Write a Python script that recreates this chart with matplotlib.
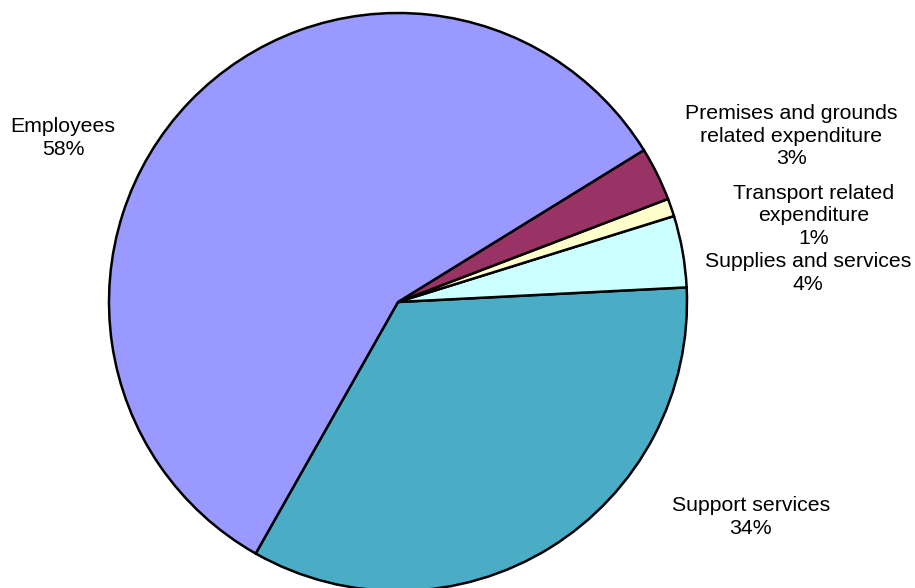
import matplotlib.pyplot as plt

plt.rcParams['font.family'] = ['Liberation Sans', 'DejaVu Sans']

categories = ['Support services', 'Supplies and services', 'Transport related\nexpenditure',
              'Premises and grounds\nrelated expenditure', 'Employees']
shares = [34, 4, 1, 3, 58]
colors = ['#4BACC6', '#CCFFFF', '#FFFFCC', '#993366', '#9999FF']

# label centres in pie units (radius = 1)
label_pos = [(1.221, -0.744), (1.419, 0.100), (1.439, 0.298), (1.360, 0.574), (-1.159, 0.567)]

W, H = 915, 588
cx, cy, r = 398, 302, 289

fig = plt.figure(figsize=(W / 100, H / 100), dpi=100)
ax = fig.add_axes([0, 0, 1, 1])
ax.pie(shares, colors=colors, startangle=-119.5, counterclock=True,
       wedgeprops=dict(edgecolor='black', linewidth=1.8))
ax.set_aspect('auto')
ax.set_xlim(-cx / r, (W - cx) / r)
ax.set_ylim((cy - H) / r, cy / r)
ax.axis('off')

for name, val, (x, y) in zip(categories, shares, label_pos):
    ax.text(x, y, f'{name}\n{val}%', ha='center', va='center',
            fontsize=15.3, linespacing=1.22, color='black')

fig.savefig('out.png', dpi=100)
